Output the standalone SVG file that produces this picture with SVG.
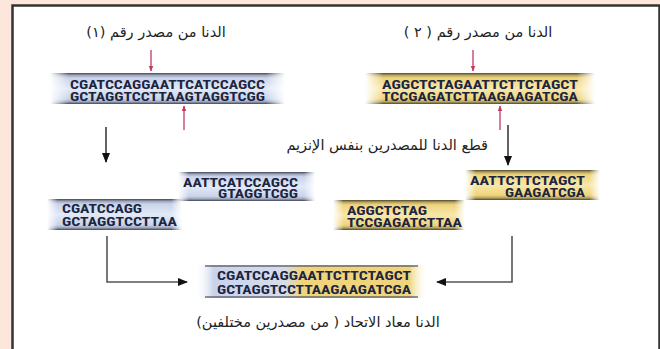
<svg xmlns="http://www.w3.org/2000/svg" width="660" height="349" viewBox="0 0 660 349">
<defs>
<style>
.dna{font-family:"Liberation Sans Narrow","Roboto Condensed","Liberation Sans",sans-serif;font-weight:bold;font-size:13.5px;fill:#1c2540}
.ar{font-family:"DejaVu Sans","Noto Sans",sans-serif;font-size:14.5px;fill:#222}
.conn{fill:none;stroke:#555;stroke-width:1.6}
.red{fill:none;stroke:#c23a5e;stroke-width:1.3}
</style>
<linearGradient id="blueV" x1="0" y1="0" x2="0" y2="1">
<stop offset="0" stop-color="#3e4454"/><stop offset="0.07" stop-color="#9aa3b8"/><stop offset="0.16" stop-color="#c9d3ea"/><stop offset="0.5" stop-color="#e2e9f6"/><stop offset="0.84" stop-color="#c9d3ea"/><stop offset="0.93" stop-color="#9aa3b8"/><stop offset="1" stop-color="#3e4454"/>
</linearGradient>
<linearGradient id="yelV" x1="0" y1="0" x2="0" y2="1">
<stop offset="0" stop-color="#4e4628"/><stop offset="0.07" stop-color="#b4a260"/><stop offset="0.16" stop-color="#efd47c"/><stop offset="0.5" stop-color="#f8e7aa"/><stop offset="0.84" stop-color="#efd47c"/><stop offset="0.93" stop-color="#b4a260"/><stop offset="1" stop-color="#4e4628"/>
</linearGradient>
<linearGradient id="fadeG" x1="0" y1="0" x2="1" y2="0">
<stop offset="0" stop-color="#fff" stop-opacity="0"/><stop offset="0.08" stop-color="#fff"/><stop offset="0.92" stop-color="#fff"/><stop offset="1" stop-color="#fff" stop-opacity="0"/>
</linearGradient>
<linearGradient id="mixH" x1="195" y1="0" x2="428" y2="0" gradientUnits="userSpaceOnUse">
<stop offset="0" stop-color="#fff" stop-opacity="0"/><stop offset="0.08" stop-color="#c9d3ea"/><stop offset="0.38" stop-color="#d6dcec"/><stop offset="0.46" stop-color="#efd47c"/><stop offset="0.92" stop-color="#efd47c"/><stop offset="1" stop-color="#fff" stop-opacity="0"/>
</linearGradient>
<mask id="fade" maskContentUnits="objectBoundingBox"><rect x="0" y="0" width="1" height="1" fill="url(#fadeG)"/></mask>
<marker id="ahb" viewBox="0 0 10 10" refX="9" refY="5" markerWidth="10" markerHeight="10" orient="auto" markerUnits="userSpaceOnUse"><path d="M0,1 L10,5 L0,9 z" fill="#111"/></marker>
<marker id="ahr" viewBox="0 0 10 10" refX="9" refY="5" markerWidth="6" markerHeight="6" orient="auto" markerUnits="userSpaceOnUse"><path d="M0,1 L10,5 L0,9 z" fill="#c23a5e"/></marker>
</defs>
<rect x="0" y="0" width="660" height="349" fill="#fde6dc"/>
<rect x="12.5" y="5.5" width="647" height="350" fill="#fff" stroke="#333" stroke-width="2.5"/>

<g id="title1"><text class="ar" x="156" y="37" text-anchor="middle">الدنا من مصدر رقم (١)</text></g>
<g id="title2"><text class="ar" x="478" y="37" text-anchor="middle">الدنا من مصدر رقم ( ٢ )</text></g>

<g id="dna1">
<rect x="50" y="73" width="235" height="31" fill="url(#blueV)" mask="url(#fade)"/>
<text class="dna" x="70" y="89" textLength="195" lengthAdjust="spacingAndGlyphs">CGATCCAGGAATTCATCCAGCC</text>
<text class="dna" x="70" y="101" textLength="195" lengthAdjust="spacingAndGlyphs">GCTAGGTCCTTAAGTAGGTCGG</text>
</g>
<g id="dna2">
<rect x="365" y="73" width="230" height="31" fill="url(#yelV)" mask="url(#fade)"/>
<text class="dna" x="382" y="89" textLength="196" lengthAdjust="spacingAndGlyphs">AGGCTCTAGAATTCTTCTAGCT</text>
<text class="dna" x="382" y="101" textLength="196" lengthAdjust="spacingAndGlyphs">TCCGAGATCTTAAGAAGATCGA</text>
</g>

<g id="cutlabel"><text class="ar" x="488" y="150" text-anchor="end">قطع الدنا للمصدرين بنفس الإنزيم</text></g>

<g id="fragA">
<rect x="178" y="172" width="137" height="29" fill="url(#blueV)" mask="url(#fade)"/>
<text class="dna" x="183" y="187" textLength="115" lengthAdjust="spacingAndGlyphs">AATTCATCCAGCC</text>
<text class="dna" x="218" y="198" textLength="80" lengthAdjust="spacingAndGlyphs">GTAGGTCGG</text>
</g>
<g id="fragB">
<rect x="47" y="199" width="135" height="31" fill="url(#blueV)" mask="url(#fade)"/>
<text class="dna" x="62" y="213" textLength="80" lengthAdjust="spacingAndGlyphs">CGATCCAGG</text>
<text class="dna" x="62" y="226" textLength="115" lengthAdjust="spacingAndGlyphs">GCTAGGTCCTTAA</text>
</g>
<g id="fragC">
<rect x="465" y="170" width="135" height="30" fill="url(#yelV)" mask="url(#fade)"/>
<text class="dna" x="470" y="185" textLength="115" lengthAdjust="spacingAndGlyphs">AATTCTTCTAGCT</text>
<text class="dna" x="505" y="197" textLength="80" lengthAdjust="spacingAndGlyphs">GAAGATCGA</text>
</g>
<g id="fragD">
<rect x="333" y="200" width="132" height="30" fill="url(#yelV)" mask="url(#fade)"/>
<text class="dna" x="347" y="215" textLength="80" lengthAdjust="spacingAndGlyphs">AGGCTCTAG</text>
<text class="dna" x="347" y="227" textLength="115" lengthAdjust="spacingAndGlyphs">TCCGAGATCTTAA</text>
</g>

<g id="recomb">
<rect x="195" y="265" width="233" height="33" fill="url(#mixH)"/>
<line x1="205" y1="266" x2="418" y2="266" stroke="#3e4454" stroke-width="1.5" opacity="0.75"/>
<line x1="205" y1="297" x2="418" y2="297" stroke="#3e4454" stroke-width="1.5" opacity="0.75"/>
<text class="dna" x="217" y="280" textLength="194" lengthAdjust="spacingAndGlyphs">CGATCCAGGAATTCTTCTAGCT</text>
<text class="dna" x="217" y="294" textLength="194" lengthAdjust="spacingAndGlyphs">GCTAGGTCCTTAAGAAGATCGA</text>
</g>
<g id="reclabel"><text class="ar" x="318" y="327" text-anchor="middle">الدنا معاد الاتحاد ( من مصدرين مختلفين)</text></g>

<g id="connectors">
<line class="red" x1="151" y1="50" x2="151" y2="71" marker-end="url(#ahr)"/>
<line class="red" x1="184" y1="130" x2="184" y2="106" marker-end="url(#ahr)"/>
<line class="red" x1="473" y1="50" x2="473" y2="71" marker-end="url(#ahr)"/>
<line class="red" x1="500" y1="130" x2="500" y2="106" marker-end="url(#ahr)"/>
<line x1="106" y1="127" x2="106" y2="162" stroke="#222" stroke-width="1.4" marker-end="url(#ahb)"/>
<line x1="508" y1="125" x2="508" y2="165" stroke="#222" stroke-width="1.4" marker-end="url(#ahb)"/>
<path class="conn" d="M107,236 V282 H187" marker-end="url(#ahb)"/>
<path class="conn" d="M512,236 V282 H437" marker-end="url(#ahb)"/>
</g>
</svg>
